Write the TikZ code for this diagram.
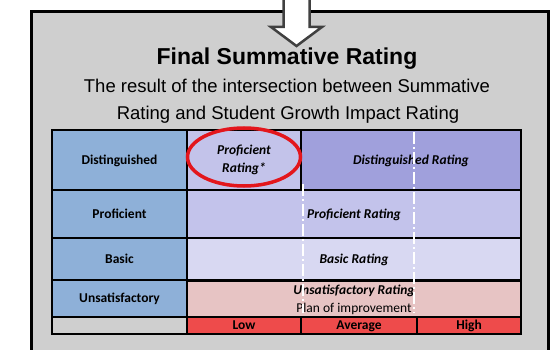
\documentclass[tikz,border=0pt]{standalone}
\usepackage{fontspec}
\setmainfont{Liberation Sans}
\newfontfamily\calfont{Carlito}
\usetikzlibrary{shapes.geometric}
\definecolor{bggray}{HTML}{CFCFCF}
\definecolor{hdrblue}{HTML}{8EB0D8}
\definecolor{profstar}{HTML}{C3C3EA}
\definecolor{distcol}{HTML}{A0A0DC}
\definecolor{profcol}{HTML}{C3C3EB}
\definecolor{basiccol}{HTML}{D8D8F2}
\definecolor{unsatcol}{HTML}{E7C4C4}
\definecolor{redcell}{HTML}{EE4B4B}
\definecolor{arrowgray}{HTML}{404040}
\definecolor{ellred}{HTML}{E3161C}
\tikzset{
  cell/.style={draw=black, line width=1.4pt, inner sep=0pt, align=center,
    font=\calfont\bfseries\fontsize{13.5}{18}\selectfont},
  icell/.style={cell, font=\calfont\bfseries\itshape\fontsize{13.5}{18}\selectfont},
  onecell/.style={cell, text height=10pt, text depth=1.3pt},
  dashline/.style={draw=white, line width=1.8pt, dash pattern=on 12pt off 3pt on 2pt off 3pt},
}
\begin{document}
\begin{tikzpicture}[x=1pt,y=-1pt]
\useasboundingbox (0,0) rectangle (552,350);
\clip (0,0) rectangle (552,350);
% frame
\node[draw=black, line width=3pt, fill=bggray, minimum width=517pt, minimum height=380pt,
  anchor=north west, inner sep=0pt] (frame) at (29.5,10) {};
% block arrow
\draw[fill=white, draw=arrowgray, line width=2.5pt, line join=miter]
  (283.5,-5) -- (283.5,27) -- (271,27) -- (296.5,46) -- (322,27) -- (309.5,27) -- (309.5,-5);
% titles
\node[font=\bfseries\fontsize{23}{27}\selectfont, anchor=base, inner sep=0pt] (title) at (287,65) {Final Summative Rating};
\node[font=\fontsize{18.5}{27}\selectfont, anchor=base, inner sep=0pt] (sub1) at (287,93) {The result of the intersection between Summative};
\node[font=\fontsize{18.5}{27}\selectfont, anchor=base, inner sep=0pt] (sub2) at (288,120) {Rating and Student Growth Impact Rating};
% header column
\node[onecell, fill=hdrblue, minimum width=135pt, minimum height=60pt] (hDist) at (119.5,160) {Distinguished};
\node[onecell, fill=hdrblue, minimum width=135pt, minimum height=48pt] (hProf) at (119.5,214) {Proficient};
\node[onecell, fill=hdrblue, minimum width=135pt, minimum height=42pt] (hBasic) at (119.5,259) {Basic};
\node[onecell, fill=hdrblue, minimum width=135pt, minimum height=37pt] (hUnsat) at (119.5,298.5) {Unsatisfactory};
\node[cell, fill=bggray, minimum width=135pt, minimum height=17pt] (hEmpty) at (119.5,325.5) {};
% body
\node[icell, fill=profstar, minimum width=114pt, minimum height=60pt] (cProfStar) at (244,160) {Proficient\\Rating*};
\node[icell, onecell, fill=distcol, minimum width=220pt, minimum height=60pt] (cDist) at (411,160) {\itshape Distinguished Rating};
\node[icell, onecell, fill=profcol, minimum width=334pt, minimum height=48pt] (cProf) at (354,214) {\itshape Proficient Rating};
\node[icell, onecell, fill=basiccol, minimum width=334pt, minimum height=42pt] (cBasic) at (354,259) {\itshape Basic Rating};
\node[cell, fill=unsatcol, minimum width=334pt, minimum height=37pt, font=\calfont\fontsize{13.5}{18}\selectfont] (cUnsat) at (354,299.5)
  {\bfseries\itshape Unsatisfactory Rating\\Plan of improvement};
\node[onecell, fill=redcell, minimum width=114pt, minimum height=17pt] (cLow) at (244,325.5) {Low};
\node[onecell, fill=redcell, minimum width=116pt, minimum height=17pt] (cAvg) at (359,325.5) {Average};
\node[onecell, fill=redcell, minimum width=104pt, minimum height=17pt] (cHigh) at (469,325.5) {High};
% redraw unsat top border (covered by shifted node)
\draw[line width=1.4pt] (hUnsat.north west) -- (cUnsat.north east |- hUnsat.north);
% dashed separators
\coordinate (d1a) at (303,184);
\coordinate (d1b) at (303,313);
\coordinate (d2a) at (414,132);
\coordinate (d2b) at (414,313);
\draw[dashline] (d1a) -- (d1b);
\draw[dashline] (d2a) -- (d2b);
% highlight
\node[draw=ellred, line width=3.5pt, ellipse, minimum width=113pt, minimum height=58pt, inner sep=0pt] (oval) at (244,157) {};
\end{tikzpicture}
\end{document}
